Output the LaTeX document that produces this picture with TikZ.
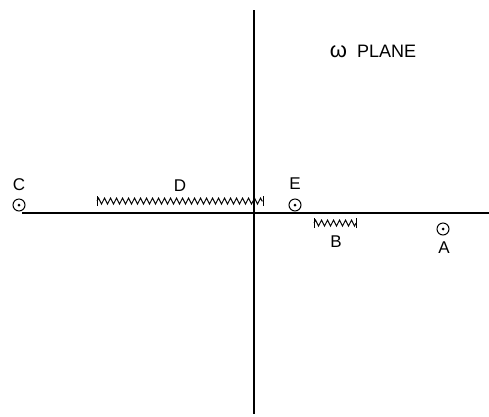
\documentclass[tikz,border=0pt]{standalone}
\usepackage{fontspec}
\setmainfont{Liberation Sans}
\usetikzlibrary{decorations.pathmorphing}
\begin{document}
\begin{tikzpicture}[x=1pt,y=-1pt,
  axis/.style={line width=1.6pt},
  pole/.style={circle,draw,line width=1pt,minimum size=12pt,inner sep=0pt},
  lbl/.style={font=\fontsize{17}{17}\selectfont,inner sep=0pt},
  cut/.style={line width=0.9pt,decorate,decoration={zigzag,segment length=6pt,amplitude=3pt}},
  tick/.style={line width=0.9pt}]
\useasboundingbox (0,0) rectangle (489,416);
% axes
\coordinate (xl) at (22,213);
\coordinate (xr) at (489,213);
\coordinate (yt) at (254,10);
\coordinate (yb) at (254,414);
\draw[axis] (xl) -- (xr);
\draw[axis] (yt) -- (yb);
% title
\node[lbl] (title) at (373,51) {{\fontsize{22}{22}\selectfont ω}\hspace{10pt}{\fontsize{18}{18}\selectfont PLANE}};
% poles
\node[pole] (C) at (19,205) {};
\fill (C) circle (1.5pt);
\node[lbl] (Cl) at (19,185) {C};
\node[pole] (E) at (295,205) {};
\fill (E) circle (1.5pt);
\node[lbl] (El) at (295,184) {E};
\node[pole] (A) at (443,229) {};
\fill (A) circle (1.5pt);
\node[lbl] (Al) at (444,248) {A};
% cut D
\coordinate (Dl) at (97,201);
\coordinate (Dr) at (263,201);
\draw[cut] (Dl) -- (Dr);
\draw[tick] ([yshift=-5pt]Dl) -- ([yshift=5pt]Dl);
\draw[tick] ([yshift=-5pt]Dr) -- ([yshift=5pt]Dr);
\node[lbl] (Dlab) at (180,186) {D};
% cut B
\coordinate (Bl) at (314,223);
\coordinate (Br) at (356,223);
\draw[cut] (Bl) -- (Br);
\draw[tick] ([yshift=-5pt]Bl) -- ([yshift=5pt]Bl);
\draw[tick] ([yshift=-5pt]Br) -- ([yshift=5pt]Br);
\node[lbl] (Blab) at (336,242) {B};
\end{tikzpicture}
\end{document}
